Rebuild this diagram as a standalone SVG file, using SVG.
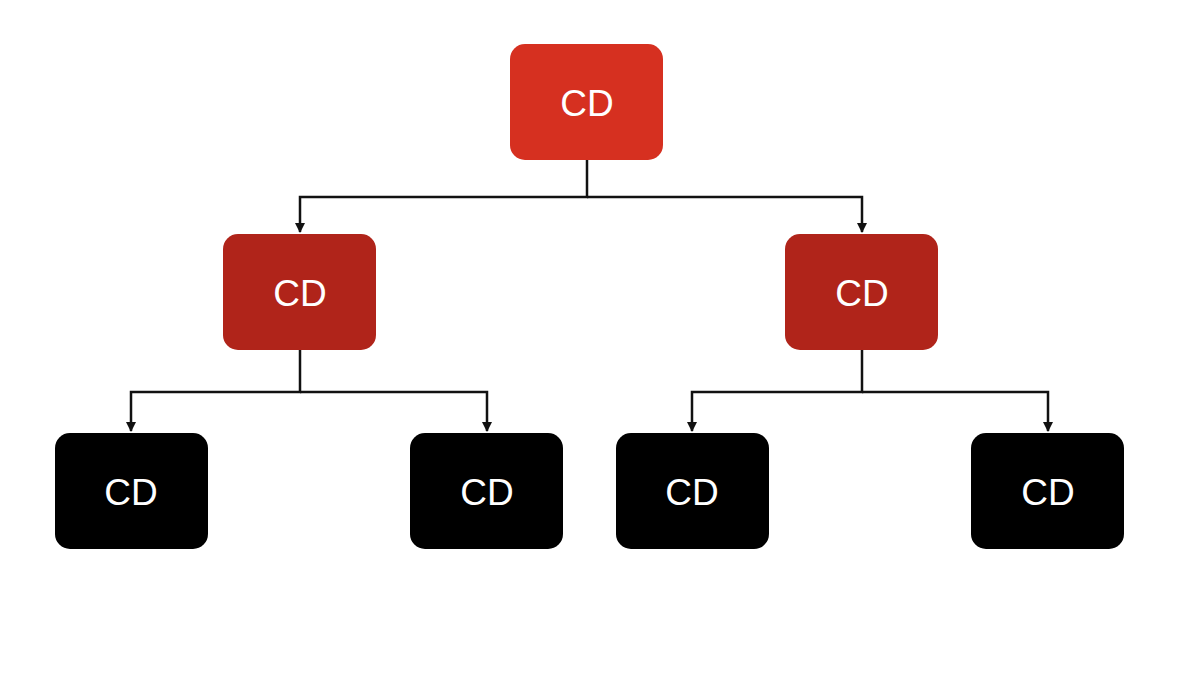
<svg xmlns="http://www.w3.org/2000/svg" width="1184" height="674" viewBox="0 0 1184 674">
<defs>
<style>
.n rect{rx:15px;ry:15px}
.root rect{fill:#D63020}
.mid rect{fill:#B0241A}
.leaf rect{fill:#000}
.n text{font-family:"Liberation Sans",Arial,sans-serif;font-size:37px;fill:#fff;text-anchor:middle;dominant-baseline:central}
.c path{fill:none;stroke:#111;stroke-width:2.5}
</style>
<marker id="ah" viewBox="0 0 10 10" refX="9" refY="5" markerWidth="10" markerHeight="10" markerUnits="userSpaceOnUse" orient="auto">
<path d="M0,0 L10,5 L0,10 z" fill="#111"/>
</marker>
</defs>
<rect width="1184" height="674" fill="#fff"/>
<g class="c">
<path d="M587,160 V197 H300 V232" marker-end="url(#ah)"/>
<path d="M587,197 H862 V232" marker-end="url(#ah)"/>
<path d="M300,350 V392 H131 V431" marker-end="url(#ah)"/>
<path d="M300,392 H487 V431" marker-end="url(#ah)"/>
<path d="M862,350 V392 H692 V431" marker-end="url(#ah)"/>
<path d="M862,392 H1048 V431" marker-end="url(#ah)"/>
</g>
<g id="n0" class="n root"><rect x="510" y="44" width="153" height="116"/><text x="587" y="103">CD</text></g>
<g id="n1" class="n mid"><rect x="223" y="234" width="153" height="116"/><text x="300" y="293">CD</text></g>
<g id="n2" class="n mid"><rect x="785" y="234" width="153" height="116"/><text x="862" y="293">CD</text></g>
<g id="n3" class="n leaf"><rect x="55" y="433" width="153" height="116"/><text x="131" y="492">CD</text></g>
<g id="n4" class="n leaf"><rect x="410" y="433" width="153" height="116"/><text x="487" y="492">CD</text></g>
<g id="n5" class="n leaf"><rect x="616" y="433" width="153" height="116"/><text x="692" y="492">CD</text></g>
<g id="n6" class="n leaf"><rect x="971" y="433" width="153" height="116"/><text x="1048" y="492">CD</text></g>
</svg>
